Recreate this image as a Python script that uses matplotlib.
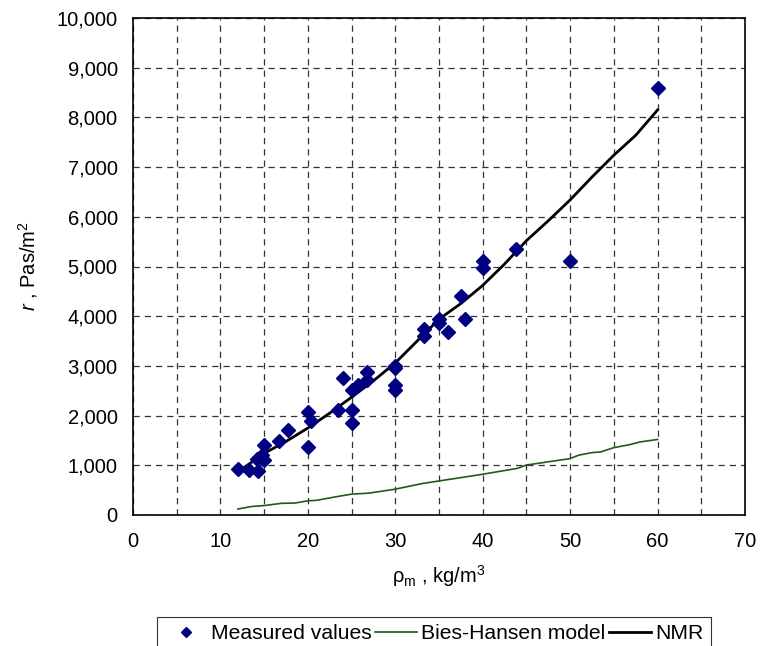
import numpy as np
import matplotlib
matplotlib.use('Agg')
import matplotlib.pyplot as plt
from matplotlib.ticker import MultipleLocator, FuncFormatter

# measured flow resistivity
meas_rho = [12.0, 13.3, 14.3, 14.2, 14.7, 15.0, 15.0, 16.7, 17.7, 20.0, 20.4, 20.0,
            23.4, 24.0, 25.0, 25.0, 25.0, 25.7, 26.8, 26.8, 30.0, 30.0, 30.0, 30.0,
            33.3, 33.3, 35.0, 35.0, 36.0, 37.5, 38.0, 40.0, 40.0, 43.8, 50.0, 60.0]
meas_r = [920, 910, 880, 1130, 1200, 1100, 1410, 1480, 1710, 2065, 1885, 1365,
          2120, 2755, 2120, 1855, 2520, 2620, 2870, 2720, 3000, 2950, 2620, 2520,
          3750, 3600, 3950, 3870, 3690, 4400, 3950, 5120, 4960, 5350, 5120, 8590]

# Bies-Hansen model
bh_rho = [12, 13.5, 15, 17, 18.5, 20, 21, 23, 25, 27, 30, 33, 35, 40, 44, 45,
          50, 51, 52.5, 53.5, 55, 56.8, 58, 60]
bh_r = [120, 170, 190, 235, 240, 285, 295, 360, 420, 440, 520, 630, 685, 820, 940, 1005,
        1135, 1205, 1255, 1270, 1355, 1415, 1470, 1520]

# NMR
nmr_rho = [12.5, 15, 17.5, 20, 22.5, 25, 27.5, 30, 32.5, 35, 37.5, 40, 42.5, 45,
           47.5, 50, 52.5, 55, 57.5, 60]
nmr_r = [930, 1240, 1480, 1750, 2050, 2370, 2700, 3060, 3500, 3940, 4255, 4620, 5050, 5520,
         5920, 6340, 6800, 7240, 7640, 8150]

plt.rcParams['font.family'] = ['Liberation Sans', 'DejaVu Sans']
plt.rcParams['mathtext.fontset'] = 'custom'
plt.rcParams['mathtext.rm'] = 'Liberation Sans'
plt.rcParams['mathtext.it'] = 'Liberation Sans:italic'

fs = 14.5

fig = plt.figure(figsize=[7.62, 6.46], dpi=100)
ax = fig.add_axes([133/762, 1 - 515/646, (745-133)/762, (515-18)/646])

ax.plot(meas_rho, meas_r, 'D', color='#000080', ms=7, mec='#000080', zorder=3,
        label='Measured values')
ax.plot(bh_rho, bh_r, '-', color='#1e5a1e', lw=1.2, label='Bies-Hansen model', zorder=2)
ax.plot(nmr_rho, nmr_r, '-', color='black', lw=2, label='NMR', zorder=2)

ax.set_xlim([0, 70])
ax.set_ylim([0, 10000])
ax.xaxis.set_major_locator(MultipleLocator(10))
ax.xaxis.set_minor_locator(MultipleLocator(5))
ax.yaxis.set_major_locator(MultipleLocator(1000))
ax.yaxis.set_major_formatter(FuncFormatter(lambda v, p: '{:,.0f}'.format(v)))
ax.grid(which='both', color='#333333', linestyle=(0, (5, 4)), lw=0.9)
ax.tick_params(which='both', length=0, labelsize=fs)
ax.tick_params(axis='y', pad=11)
ax.tick_params(axis='x', pad=12)
for s in ax.spines.values():
    s.set_linewidth(1.2)

ax.set_xlabel(r'ρ$_{\rm m}$ , kg/m$^3$', fontsize=fs, labelpad=9)
ax.set_ylabel(r'$\it{r}$ , Pas/m$^2$', fontsize=fs, labelpad=12)

leg = fig.legend(loc='upper left', bbox_to_anchor=(157/762, 1 - 617/646), ncol=3,
                 fontsize=15.2, frameon=True, fancybox=False, edgecolor='black',
                 handlelength=2.0, handletextpad=0.2, columnspacing=0.15,
                 markerscale=0.8, borderpad=0.35, borderaxespad=0)
leg.get_frame().set_linewidth(0.8)

fig.savefig('out.png', dpi=100)
